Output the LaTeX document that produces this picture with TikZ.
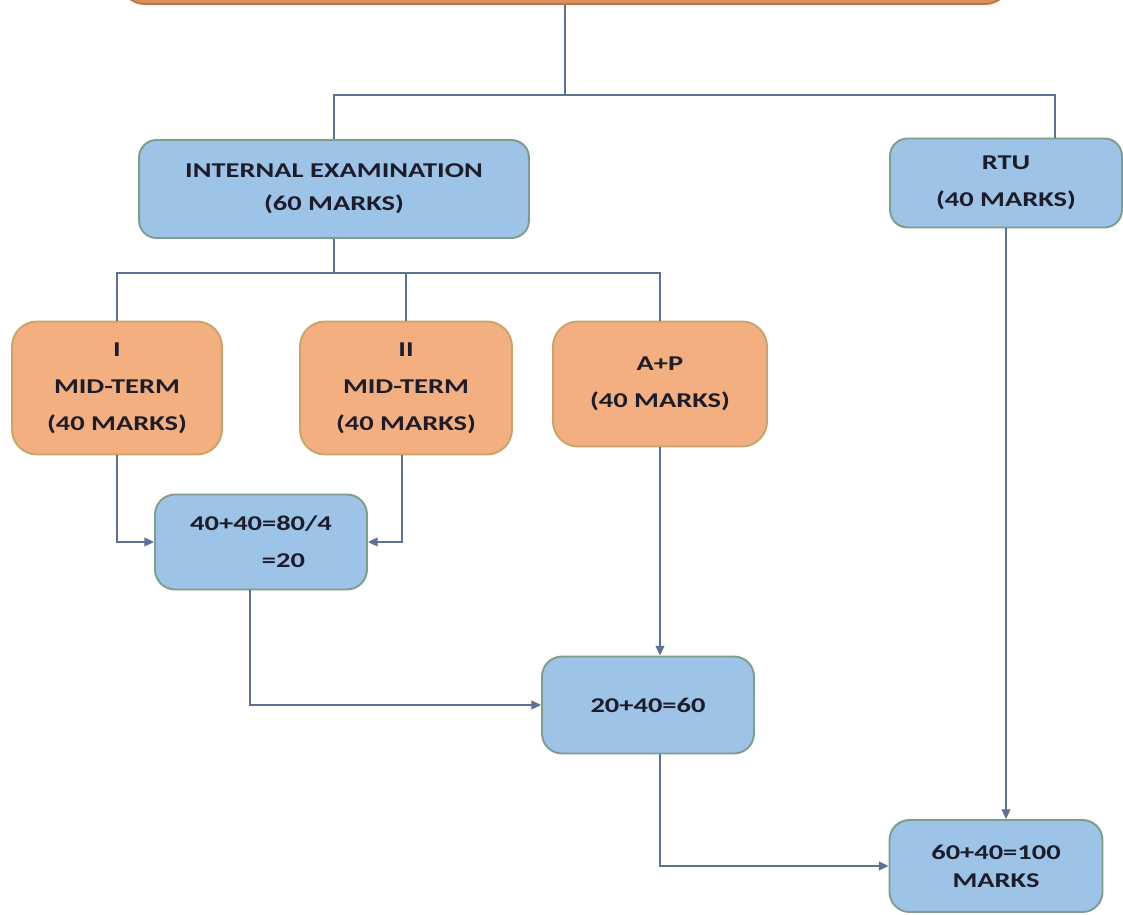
\documentclass[tikz,border=0pt]{standalone}
\usepackage{fontspec}
\setmainfont{Carlito}[FakeStretch=1.35]
\usepackage{xcolor}
\usetikzlibrary{shapes,arrows.meta,positioning}

\definecolor{orangefill}{HTML}{F3AF80}
\definecolor{orangeline}{HTML}{C8A36C}
\definecolor{topfill}{HTML}{DC8F5E}
\definecolor{topline}{HTML}{C07244}
\definecolor{bluefill}{HTML}{9DC3E6}
\definecolor{blueline}{HTML}{7E9E8C}
\definecolor{connector}{HTML}{5C7294}
\definecolor{textcol}{HTML}{1C1C2A}

\begin{document}
\begin{tikzpicture}[
		x=0.02cm, y=-0.02cm,
		midbox/.style={rectangle, rounded corners=0.5cm, draw=orangeline, fill=orangefill, line width=1.1pt, align=center, text=textcol, font=\fontsize{12}{21}\selectfont\bfseries},
		calcbox/.style={rectangle, rounded corners=0.4cm, draw=blueline, fill=bluefill, line width=1.1pt, align=center, text=textcol, font=\fontsize{12}{21}\selectfont\bfseries},
		line/.style={draw=connector, line width=0.9pt},
		arrow/.style={line, -{Triangle[length=5.5pt,width=5pt]}}
		]
		
		\useasboundingbox (0,0) rectangle (1123,915);
		\fill[white] (0,0) rectangle (1123,915);
		\clip (0,0) rectangle (1123,915);
		
		% Boxes
		\node[midbox, fill=topfill, draw=topline, minimum width=17.8cm, minimum height=2cm, anchor=south] (top) at (565,5) {};
		\node[calcbox, rounded corners=0.35cm, minimum width=7.8cm, minimum height=1.96cm, font=\fontsize{12}{18.7}\selectfont\bfseries] (internal) at (334,189) {INTERNAL EXAMINATION\\(60 MARKS)};
		\node[calcbox, rounded corners=0.35cm, minimum width=4.64cm, minimum height=1.78cm] (rtu) at (1006,183) {RTU\\(40 MARKS)};
		\node[midbox, minimum width=4.2cm, minimum height=2.66cm] (mid1) at (117,388) {I\\MID-TERM\\(40 MARKS)};
		\node[midbox, minimum width=4.24cm, minimum height=2.66cm] (mid2) at (406,388) {II\\MID-TERM\\(40 MARKS)};
		\node[midbox, minimum width=4.28cm, minimum height=2.5cm] (ap) at (660,384) {A+P\\(40 MARKS)};
		\node[calcbox, minimum width=4.24cm, minimum height=1.9cm] (calc1) at (261,542) {40+40=80/4\\\hspace*{0.9cm}=20};
		\node[calcbox, minimum width=4.24cm, minimum height=1.94cm] (sum1) at (648,705) {20+40=60};
		\node[calcbox, minimum width=4.26cm, minimum height=1.84cm, font=\fontsize{12}{16}\selectfont\bfseries] (total) at (996,866) {60+40=100\\MARKS};
		
		% Connectors
		\coordinate (split1) at (565,95);
		\coordinate (split2) at (332,273);
		\draw[line] (top.south) -- (split1);
		\draw[line] (internal.north) |- ([xshift=0.98cm]rtu.north |- split1) -- ([xshift=0.98cm]rtu.north);
		\draw[line] (internal.south) -- (internal.south |- split2);
		\draw[line] (mid1.north) |- (ap.north |- split2) -- (ap.north);
		\draw[line] (mid2.north) -- (mid2.north |- split2);
		\draw[arrow] (mid1.south) |- (calc1.west);
		\draw[arrow] ([xshift=-0.08cm]mid2.south) |- (calc1.east);
		\draw[arrow] ([xshift=-0.22cm]calc1.south) |- (sum1.west);
		\draw[arrow] (ap.south) -- (ap.south |- sum1.north);
		\draw[arrow] (ap.south |- sum1.south) |- (total.west);
		\draw[arrow] (rtu.south) -- (rtu.south |- total.north);
		
	\end{tikzpicture}
\end{document}
